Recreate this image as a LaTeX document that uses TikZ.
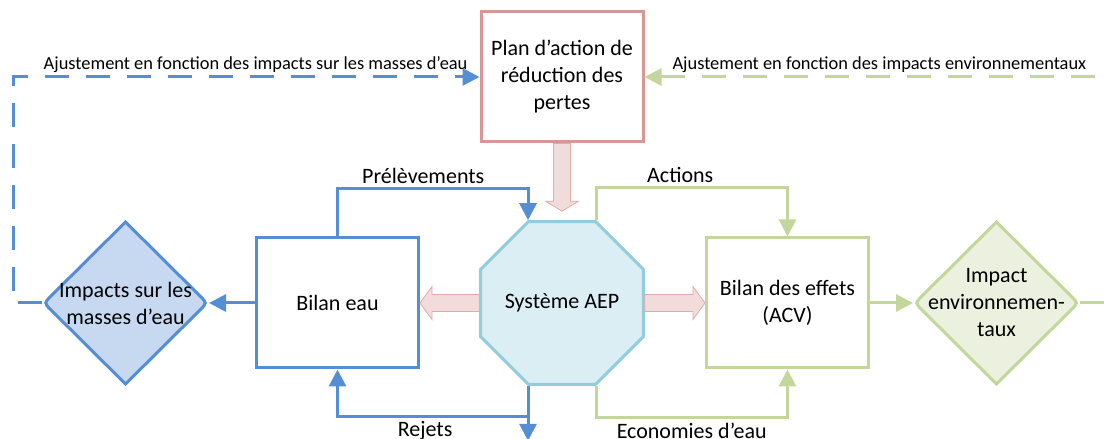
\documentclass[tikz,border=0pt]{standalone}
\usepackage{fontspec}
\setmainfont{Carlito}
\usepackage{tikz}
\usetikzlibrary{shapes.geometric, positioning, calc, arrows.meta, backgrounds}
\definecolor{eaublue}{HTML}{558ED5}
\definecolor{eaufill}{HTML}{C6D9F1}
\definecolor{acvgreen}{HTML}{C3D69B}
\definecolor{acvfill}{HTML}{EBF1DE}
\definecolor{aepcyan}{HTML}{93CDDD}
\definecolor{aepfill}{HTML}{DBEEF4}
\definecolor{planred}{HTML}{D99694}
\definecolor{planfill}{HTML}{F2DCDB}
\tikzset{
    x=1pt, y=1pt, % one unit is one pixel of the drawing
    node distance=224pt, % centre to centre distance between two blocks
    every node/.style={font=\fontsize{22}{27}\selectfont, align=center, text=black},
    bilan/.style={rectangle, line width=3pt, fill=white, minimum width=162pt, minimum height=130pt, inner sep=0pt}, % the square blocks
    impact/.style={diamond, minimum width=163pt, minimum height=162pt, inner sep=0pt, outer sep=0pt}, % the decisions, outline drawn behind
    decision/.style={line width=3pt, line join=miter},
    aep/.style={regular polygon, regular polygon sides=8, draw=aepcyan, fill=aepfill, line width=3pt, minimum size=176pt, inner sep=0pt},
    flow/.style={line width=3pt, -{Triangle[length=17pt, width=17pt]}}, % plain connectors
    retour/.style={flow, dash pattern=on 24pt off 17pt}, % feedback loops
    bigarrow/.style={draw=planred!80, fill=planfill, line width=0.8pt}, % thick hollow arrows
    ajust/.style={font=\fontsize{18.4}{22}\selectfont},
    }

\begin{document}
\begin{tikzpicture}
        \useasboundingbox (0,0) rectangle (1104,439);
        \clip (0,0) rectangle (1104,439);

        \node[aep] (aep) at (562,136) {Système AEP};
        \node[bilan, draw=eaublue] (eau) [left of=aep, node distance=224.5pt] {Bilan eau};
        \node[impact, label={center:Impacts sur les\\masses d’eau}] (impacts) [left of=eau, node distance=212pt] {};
        \node[bilan, draw=planred] (plan) [above of=aep, node distance=226pt] {Plan d’action de\\réduction des\\pertes};
        \node[bilan, draw=acvgreen] (effets) [right of=aep, node distance=225.5pt] {Bilan des effets\\(ACV)};
        \node[impact, label={center:Impact\\environnemen-\\taux}] (envimpact) [right of=effets, node distance=209pt] {};

        % diamonds, rounded on the left and right corners only
        \begin{scope}[on background layer]
            \draw[decision, eaublue, fill=eaufill] (impacts.north) -- ($(impacts.east)+(-7,7)$) .. controls (impacts.east) .. ($(impacts.east)+(-7,-7)$)
                -- (impacts.south) -- ($(impacts.west)+(7,-7)$) .. controls (impacts.west) .. ($(impacts.west)+(7,7)$) -- cycle;
            \draw[decision, acvgreen, fill=acvfill] (envimpact.north) -- ($(envimpact.east)+(-7,7)$) .. controls (envimpact.east) .. ($(envimpact.east)+(-7,-7)$)
                -- (envimpact.south) -- ($(envimpact.west)+(7,-7)$) .. controls (envimpact.west) .. ($(envimpact.west)+(7,7)$) -- cycle;
        \end{scope}

        % blue side
        \draw[flow, eaublue, shorten >=2pt] (eau.west) -- (impacts.east);
        \draw[flow, eaublue] (eau.north) -- ++(0,48) -| node[pos=0.225, above] {Prélèvements} ($(aep.north)+(-34,0)$);
        \draw[flow, eaublue] ($(aep.south)+(-34,0)$) -- ++(0,-31) -| node[pos=0.27, below] {Rejets} (eau.south);
        \draw[flow, eaublue] ($(aep.south)+(-34,0)$) -- ++(0,-55);
        \draw[retour, eaublue, shorten <=2pt] (impacts.west) -- ++(-31,0) |- node[pos=0.76, above, ajust] {Ajustement en fonction des impacts sur les masses d’eau} (plan.west);

        % green side
        \draw[flow, acvgreen, shorten >=2pt] (effets.east) -- (envimpact.west);
        \draw[flow, acvgreen] ($(aep.north)+(34,0)$) -- ++(0,33) -| node[pos=0.22, above] {Actions} (effets.north);
        \draw[flow, acvgreen] ($(aep.south)+(34,0)$) -- ++(0,-32) -| node[pos=0.25, below] {Economies d’eau} (effets.south);
        \draw[retour, acvgreen, shorten <=2pt] (envimpact.east) -- ++(40,0) |- node[pos=0.752, above, ajust] {Ajustement en fonction des impacts environnementaux} (plan.east);

        % hollow arrows
        \draw[bigarrow] ($(plan.south)+(-8.5,0)$) -- ($(aep.north)+(-8.5,19)$) -- ($(aep.north)+(-16.5,19)$) -- ($(aep.north)+(0,9)$)
            -- ($(aep.north)+(16.5,19)$) -- ($(aep.north)+(8.5,19)$) -- ($(plan.south)+(8.5,0)$) -- cycle;
        \draw[bigarrow] ($(aep.west)+(0,8.5)$) -- ($(eau.east)+(12,8.5)$) -- ($(eau.east)+(12,16.5)$) -- (eau.east)
            -- ($(eau.east)+(12,-16.5)$) -- ($(eau.east)+(12,-8.5)$) -- ($(aep.west)+(0,-8.5)$) -- cycle;
        \draw[bigarrow] ($(aep.east)+(0,8.5)$) -- ($(effets.west)+(-12,8.5)$) -- ($(effets.west)+(-12,16.5)$) -- (effets.west)
            -- ($(effets.west)+(-12,-16.5)$) -- ($(effets.west)+(-12,-8.5)$) -- ($(aep.east)+(0,-8.5)$) -- cycle;
    \end{tikzpicture}
\end{document}
